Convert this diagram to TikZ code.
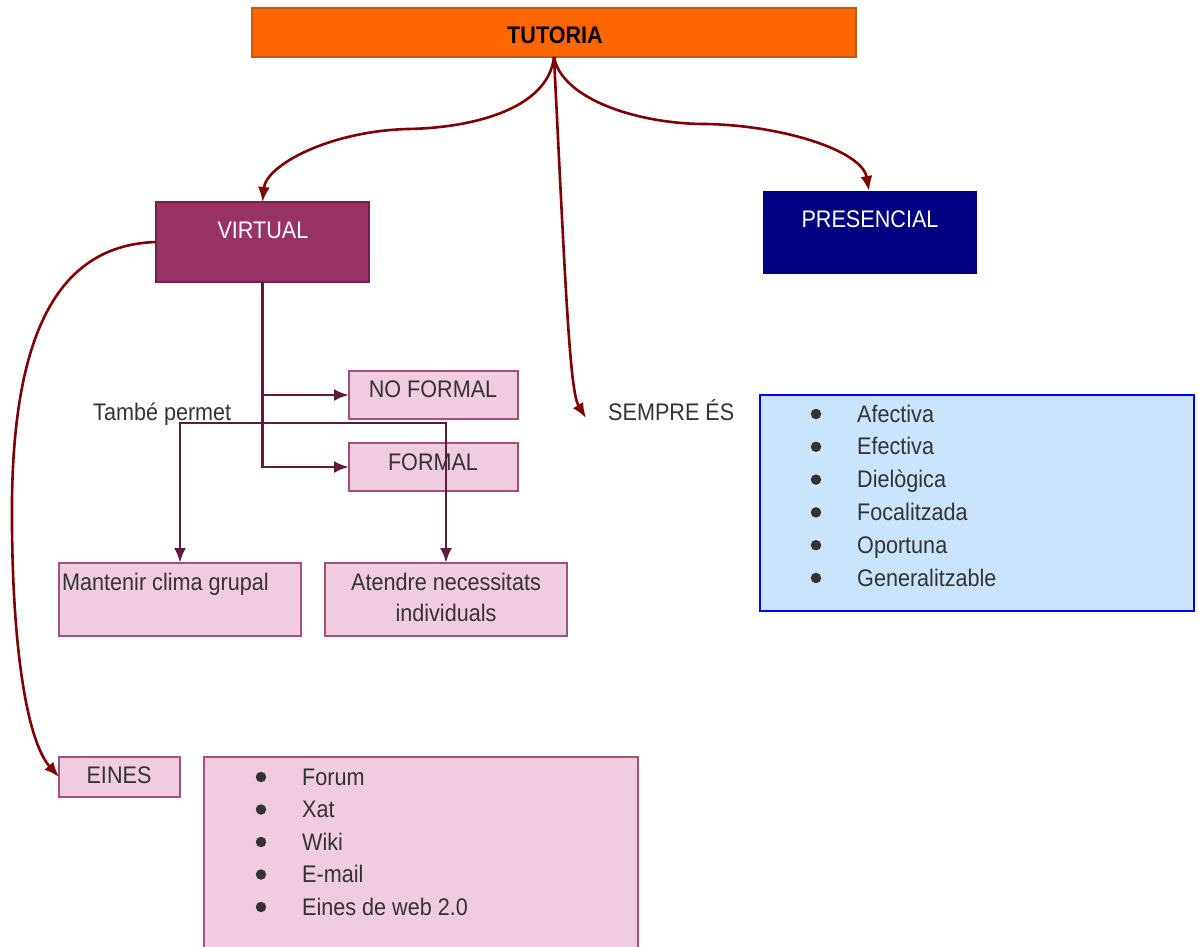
\documentclass[tikz,border=0pt]{standalone}
\usepackage{fontspec}
\setmainfont{Liberation Sans}[FakeStretch=0.9]
\usetikzlibrary{arrows.meta}

\definecolor{ink}{HTML}{333333}
\definecolor{orangefill}{HTML}{FF6600}
\definecolor{orangeline}{HTML}{C5560E}
\definecolor{plum}{HTML}{993366}
\definecolor{plumline}{HTML}{6E2448}
\definecolor{navy}{HTML}{000080}
\definecolor{pinkfill}{HTML}{F0CCE0}
\definecolor{pinkline}{HTML}{A64D79}
\definecolor{skyfill}{HTML}{CAE4FC}
\definecolor{skyline}{HTML}{0000FF}
\definecolor{redlink}{HTML}{800000}
\definecolor{purplelink}{HTML}{5E1B3E}

% rectangle node from its corners: name, x1, y1, x2, y2, style
\newcommand\mkbox[6]{%
  \node[#6, minimum width={#4-#2}, minimum height={#5-#3}] (#1)
    at ({(#2+#4)/2},{(#3+#5)/2}) {};}

\begin{document}
\begin{tikzpicture}[x=1pt,y=-1pt,
  shell/.style={rectangle, inner sep=0pt, outer sep=0pt},
  orangebox/.style={shell, fill=orangefill, draw=orangeline, line width=1.5pt},
  plumbox/.style={shell, fill=plum, draw=plumline, line width=1.5pt},
  navybox/.style={shell, fill=navy},
  pinkbox/.style={shell, fill=pinkfill, draw=pinkline, line width=2pt},
  skybox/.style={shell, fill=skyfill, draw=skyline, line width=2pt},
  txt/.style={font=\fontsize{24}{29}\selectfont, text=ink, inner sep=0pt},
  dot/.style={circle, fill=ink, inner sep=0pt, minimum size=10.5pt},
  redarrow/.style={draw=redlink, line width=2.6pt,
    -{Latex[length=15pt,width=12pt]}},
  purplearrow/.style={draw=purplelink, line width=2.8pt,
    -{Latex[length=15pt,width=12pt]}},
]
\useasboundingbox (0,0) rectangle (1199,947);

% boxes
\mkbox{tutoria}{252}{8}{856}{57}{orangebox}
\mkbox{virtual}{156}{202}{369}{282}{plumbox}
\mkbox{presencial}{763}{191}{977}{274}{navybox}
\mkbox{noformal}{349}{371}{518}{419}{pinkbox}
\mkbox{formal}{349}{443}{518}{491}{pinkbox}
\mkbox{mantenir}{59}{563}{301}{636}{pinkbox}
\mkbox{atendre}{325}{563}{567}{636}{pinkbox}
\mkbox{eines}{59}{757}{180}{797}{pinkbox}
\mkbox{eineslist}{204}{757}{638}{960}{pinkbox}
\mkbox{sempre}{760}{395}{1194}{611}{skybox}

% links from TUTORIA
\draw[redarrow] (tutoria.south) .. controls (548,110) and (470,128) .. (408,129)
  .. controls (330,131) and (266,165) .. (virtual.north);
\draw[redarrow] (tutoria.south) .. controls (562,100) and (640,124) .. (705,124)
  .. controls (780,125) and (862,150) .. (presencial.north -| 869,0);
\coordinate (sempretip) at (586,418);
\draw[redarrow] (tutoria.south) .. controls (566,300) and (570,392) .. (sempretip);

% VIRTUAL to EINES
\draw[redarrow] (virtual.west) .. controls (60,245) and (14,330) .. (12,500)
  .. controls (11,640) and (26,740) .. (eines.west);

% VIRTUAL to NO FORMAL / FORMAL
\draw[purplearrow] (virtual.south) |- (noformal.west);
\draw[purplearrow] (virtual.south) |- (formal.west);

% També permet branches
\coordinate (permet) at (312,423);
\draw[purplearrow] (permet) -| (mantenir.north);
\draw[purplearrow] (permet) -| (atendre.north);

% texts
\node[txt, font=\fontsize{24}{29}\selectfont\bfseries, text=black, anchor=base]
  (ttutoria) at (555,43.5) {TUTORIA};
\node[txt, text=white, anchor=base] (tvirtual) at (263,238) {VIRTUAL};
\node[txt, text=white, anchor=base] (tpresencial) at (870,227) {PRESENCIAL};
\node[txt, anchor=base] (tnoformal) at (433,397) {NO FORMAL};
\node[txt, anchor=base] (tformal) at (433,470) {FORMAL};
\node[txt, anchor=base west] (tpermet) at (93,420) {També permet};
\node[txt, anchor=base west] (tsempre) at (608,420) {SEMPRE ÉS};
\node[txt, anchor=base west] (tmantenir) at (62,590) {Mantenir clima grupal};
\node[txt, anchor=base] (tatendre1) at (446,590) {Atendre necessitats};
\node[txt, anchor=base] (tatendre2) at (446,621) {individuals};
\node[txt, anchor=base] (teines) at (119,783) {EINES};

\foreach \t [count=\i] in {Forum,Xat,Wiki,E-mail,Eines de web 2.0} {
  \node[dot] (eb\i) at (261,{777+32.5*(\i-1)}) {};
  \node[txt, anchor=base west] (ei\i) at (302,{785+32.5*(\i-1)}) {\t};
}
\foreach \t [count=\i] in {Afectiva,Efectiva,Dielògica,Focalitzada,Oportuna,Generalitzable} {
  \node[dot] (sb\i) at (816,{414+32.8*(\i-1)}) {};
  \node[txt, anchor=base west] (si\i) at (857,{422+32.8*(\i-1)}) {\t};
}
\end{tikzpicture}
\end{document}
